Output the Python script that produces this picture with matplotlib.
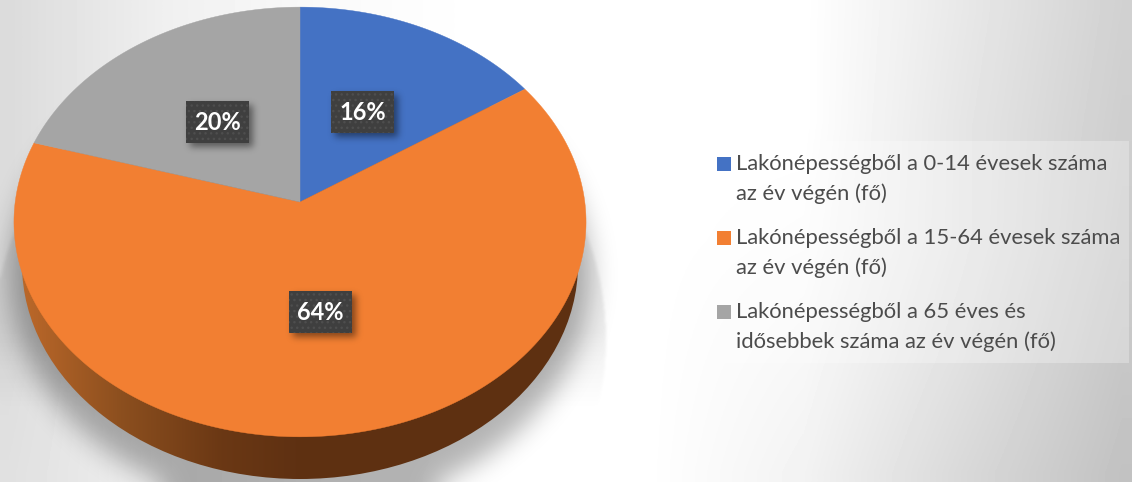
import numpy as np
import matplotlib
matplotlib.use('Agg')
import matplotlib.pyplot as plt
from matplotlib.patches import Rectangle, Ellipse

# population share by age group
values = [15.6, 64.0, 20.4]
colors = ['#4472C4', '#F27F32', '#A5A5A5']
legend_labels = ['Lakónépességből a 0-14 évesek száma\naz év végén (fő)',
                 'Lakónépességből a 15-64 évesek száma\naz év végén (fő)',
                 'Lakónépességből a 65 éves és\nidősebbek száma az év végén (fő)']

W, H = 1132, 482
apex_x, apex_y = 300, 202
persp_k, persp_a, persp_b = 0.093, 213.0, 284.8
label_pos = [(362.5, 112), (320.5, 312), (217.5, 122)]
legend_y = [170, 244, 318]

plt.rcParams['font.family'] = ['Lato', 'DejaVu Sans']


def project(theta):
    # clockwise angle from 12 o'clock on the tilted disc -> picture pixels
    u, v = np.sin(theta), np.cos(theta)
    w = 1 + persp_k * v
    return apex_x + persp_b * u / w, apex_y - persp_a * v / w


def blur(img, sigma):
    r = int(3 * sigma)
    kernel = np.exp(-0.5 * (np.arange(-r, r + 1) / sigma) ** 2)
    kernel /= kernel.sum()
    img = np.apply_along_axis(lambda c: np.convolve(c, kernel, mode='same'), 0, img)
    img = np.apply_along_axis(lambda c: np.convolve(c, kernel, mode='same'), 1, img)
    return img


def draw_shadow(ax, mask, sigma, alpha, zorder, pad=40):
    # pad at the border so the blur does not fade out at the picture's edge
    big = np.pad(mask.astype(float), pad, mode='edge')
    soft = blur(big, sigma)[pad:-pad, pad:-pad]
    rgba = np.zeros((H, W, 4))
    rgba[..., 3] = soft * alpha
    ax.imshow(rgba, extent=(0, W, H, 0), zorder=zorder, interpolation='nearest', aspect='auto')


fig = plt.figure(figsize=(W / 100, H / 100), dpi=100)
ax = fig.add_axes([0, 0, 1, 1])

# background
bg = np.array([[0.86, 0.94, 0.98, 1.00, 1.00, 1.00, 0.91, 0.82],
               [0.86, 0.94, 0.98, 1.00, 1.00, 1.00, 0.90, 0.81],
               [0.86, 0.94, 0.98, 1.00, 1.00, 0.99, 0.90, 0.80],
               [0.87, 0.94, 0.98, 1.00, 1.00, 0.97, 0.88, 0.78],
               [0.88, 0.94, 0.99, 1.00, 1.00, 0.95, 0.85, 0.76]])
ax.imshow(bg, extent=(-70, W + 70, H + 50, -50), cmap='gray', vmin=0, vmax=1,
          interpolation='bilinear', aspect='auto', zorder=0)

yy, xx = np.mgrid[0:H, 0:W] + 0.5

# shadows under the pie
outer = (((xx - 300) / 306) ** 2 + ((yy - 340) / 300) ** 2 < 1) * np.clip((410 - yy) / 80, 0, 1)
draw_shadow(ax, outer, 1.5, 0.07, 1)
inner = ((xx - 300) / 290) ** 2 + ((yy - 275) / 235) ** 2 < 1
draw_shadow(ax, inner, 13, 0.3, 2)

# side of the pie
side = Ellipse((300, 264), 2 * 278, 2 * 215, transform=ax.transData, facecolor='none', edgecolor='none')
ax.add_patch(side)
side_x = [0, 30, 120, 220, 300, W]
side_r = [0.74, 0.72, 0.55, 0.42, 0.37, 0.37]
side_g = [0.42, 0.40, 0.31, 0.22, 0.19, 0.19]
side_b = [0.17, 0.16, 0.12, 0.08, 0.07, 0.07]
grad = np.dstack([np.interp(np.arange(W), side_x, c) for c in (side_r, side_g, side_b)])
im = ax.imshow(grad, extent=(0, W, H, 0), zorder=3, aspect='auto')
im.set_clip_path(side)

# top of the pie
start = 0.0
for value, color in zip(values, colors):
    end = start + value / sum(values) * 2 * np.pi
    t = np.linspace(start, end, 200)
    px, py = project(t)
    ax.fill(np.r_[apex_x, px], np.r_[apex_y, py], color=color, lw=0.3, zorder=4)
    start = end

# data labels
for value, (lx, ly) in zip(values, label_pos):
    x0, y0, bw, bh = lx - 31.5, ly - 21, 63, 42
    box = (xx > x0 + 4) & (xx < x0 + bw + 4) & (yy > y0 + 4) & (yy < y0 + bh + 4)
    draw_shadow(ax, box, 3.5, 0.45, 5)
    ax.add_patch(Rectangle((x0, y0), bw, bh, facecolor='#3F3F3F', edgecolor='#4E4E4E',
                           hatch='...', lw=0, zorder=6))
    ax.text(lx, ly + 0.5, '%d%%' % round(value), color='white', fontsize=17, fontweight='bold',
            ha='center', va='center', zorder=7)

# legend
ax.add_patch(Rectangle((704, 141), 425, 222, facecolor='white', alpha=0.28, lw=0, zorder=4))
for label, color, ly in zip(legend_labels, colors, legend_y):
    ax.add_patch(Rectangle((717, ly - 13), 14, 14, facecolor=color, lw=0, zorder=5))
    for i, line in enumerate(label.split('\n')):
        ax.text(736.5, ly + 30 * i, line, color='#4C4C4C', fontsize=15.8, ha='left', va='baseline', zorder=5)

ax.set_xlim(0, W)
ax.set_ylim(H, 0)
ax.axis('off')
fig.savefig('out.png', dpi=100)
